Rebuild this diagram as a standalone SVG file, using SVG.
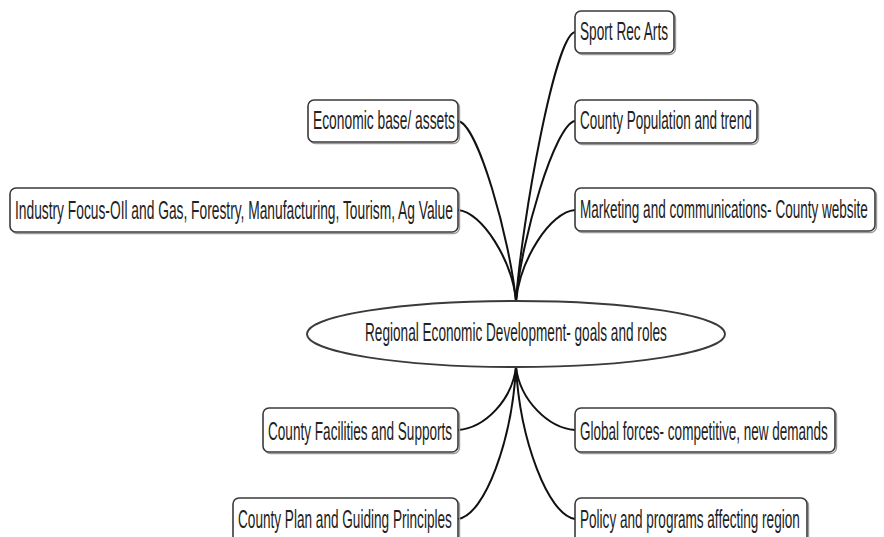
<svg xmlns="http://www.w3.org/2000/svg" width="884" height="537" viewBox="0 0 884 537">
<style>
  .box { fill: #ffffff; stroke: #3a3a3a; stroke-width: 1.6; }
  .shadow { fill: none; stroke: #9a9a9a; stroke-width: 1.4; }
  .lbl { font-family: "Liberation Sans", Arial, sans-serif; font-size: 25px; fill: #222222; }
  .conn { fill: none; stroke: #111111; stroke-width: 2; }
</style>
<rect x="0" y="0" width="884" height="537" fill="#ffffff"/>
<g id="connectors">
  <path class="conn" d="M575,32 C555,35 522,220 516,301"/>
  <path class="conn" d="M575,121 C555,124 521,240 516,301"/>
  <path class="conn" d="M575,210 C550,212 520,260 516,301"/>
  <path class="conn" d="M458,121 C478,124 510,240 516,301"/>
  <path class="conn" d="M458,210 C482,212 512,260 516,301"/>
  <path class="conn" d="M516,367 C512,400 485,428 458,430"/>
  <path class="conn" d="M516,367 C512,440 485,515 458,519"/>
  <path class="conn" d="M516,367 C520,400 548,428 575,430"/>
  <path class="conn" d="M516,367 C520,440 548,515 575,519"/>
</g>
<g id="center">
  <ellipse cx="516" cy="334" rx="209" ry="33" fill="#ffffff" stroke="#3a3a3a" stroke-width="1.8"/>
  <text class="lbl" transform="translate(365,341) scale(0.54,1)" textLength="559" lengthAdjust="spacingAndGlyphs">Regional Economic Development- goals and roles</text>
</g>
<g id="sport">
  <rect class="shadow" x="576.5" y="12.5" width="99" height="42" rx="6"/>
  <rect class="box" x="575" y="11" width="99" height="42" rx="6"/>
  <text class="lbl" transform="translate(580,40) scale(0.54,1)" textLength="163" lengthAdjust="spacingAndGlyphs">Sport Rec Arts</text>
</g>
<g id="population">
  <rect class="shadow" x="576.5" y="101.5" width="182" height="43" rx="6"/>
  <rect class="box" x="575" y="100" width="182" height="43" rx="6"/>
  <text class="lbl" transform="translate(580,129) scale(0.54,1)" textLength="318" lengthAdjust="spacingAndGlyphs">County Population and trend</text>
</g>
<g id="marketing">
  <rect class="shadow" x="576.5" y="189.5" width="300" height="43" rx="6"/>
  <rect class="box" x="575" y="188" width="300" height="43" rx="6"/>
  <text class="lbl" transform="translate(580,218) scale(0.54,1)" textLength="533" lengthAdjust="spacingAndGlyphs">Marketing and communications- County website</text>
</g>
<g id="economic">
  <rect class="shadow" x="309.5" y="101.5" width="150" height="42" rx="6"/>
  <rect class="box" x="308" y="100" width="150" height="42" rx="6"/>
  <text class="lbl" transform="translate(313,129) scale(0.54,1)" textLength="263" lengthAdjust="spacingAndGlyphs">Economic base/ assets</text>
</g>
<g id="industry">
  <rect class="shadow" x="11.5" y="189.5" width="448" height="44" rx="6"/>
  <rect class="box" x="10" y="188" width="448" height="44" rx="6"/>
  <text class="lbl" transform="translate(15,219) scale(0.54,1)" textLength="811" lengthAdjust="spacingAndGlyphs">Industry Focus-OIl and Gas, Forestry, Manufacturing, Tourism, Ag Value</text>
</g>
<g id="facilities">
  <rect class="shadow" x="264.5" y="409.5" width="195" height="44" rx="6"/>
  <rect class="box" x="263" y="408" width="195" height="44" rx="6"/>
  <text class="lbl" transform="translate(268,440) scale(0.54,1)" textLength="341" lengthAdjust="spacingAndGlyphs">County Facilities and Supports</text>
</g>
<g id="plan">
  <rect class="shadow" x="234.5" y="499.5" width="225" height="44" rx="6"/>
  <rect class="box" x="233" y="498" width="225" height="44" rx="6"/>
  <text class="lbl" transform="translate(238,528) scale(0.54,1)" textLength="396" lengthAdjust="spacingAndGlyphs">County Plan and Guiding Principles</text>
</g>
<g id="global">
  <rect class="shadow" x="576.5" y="409.5" width="260" height="44" rx="6"/>
  <rect class="box" x="575" y="408" width="260" height="44" rx="6"/>
  <text class="lbl" transform="translate(580,440) scale(0.54,1)" textLength="459" lengthAdjust="spacingAndGlyphs">Global forces- competitive, new demands</text>
</g>
<g id="policy">
  <rect class="shadow" x="576.5" y="499.5" width="232" height="44" rx="6"/>
  <rect class="box" x="575" y="498" width="232" height="44" rx="6"/>
  <text class="lbl" transform="translate(580,528) scale(0.54,1)" textLength="407" lengthAdjust="spacingAndGlyphs">Policy and programs affecting region</text>
</g>
</svg>
